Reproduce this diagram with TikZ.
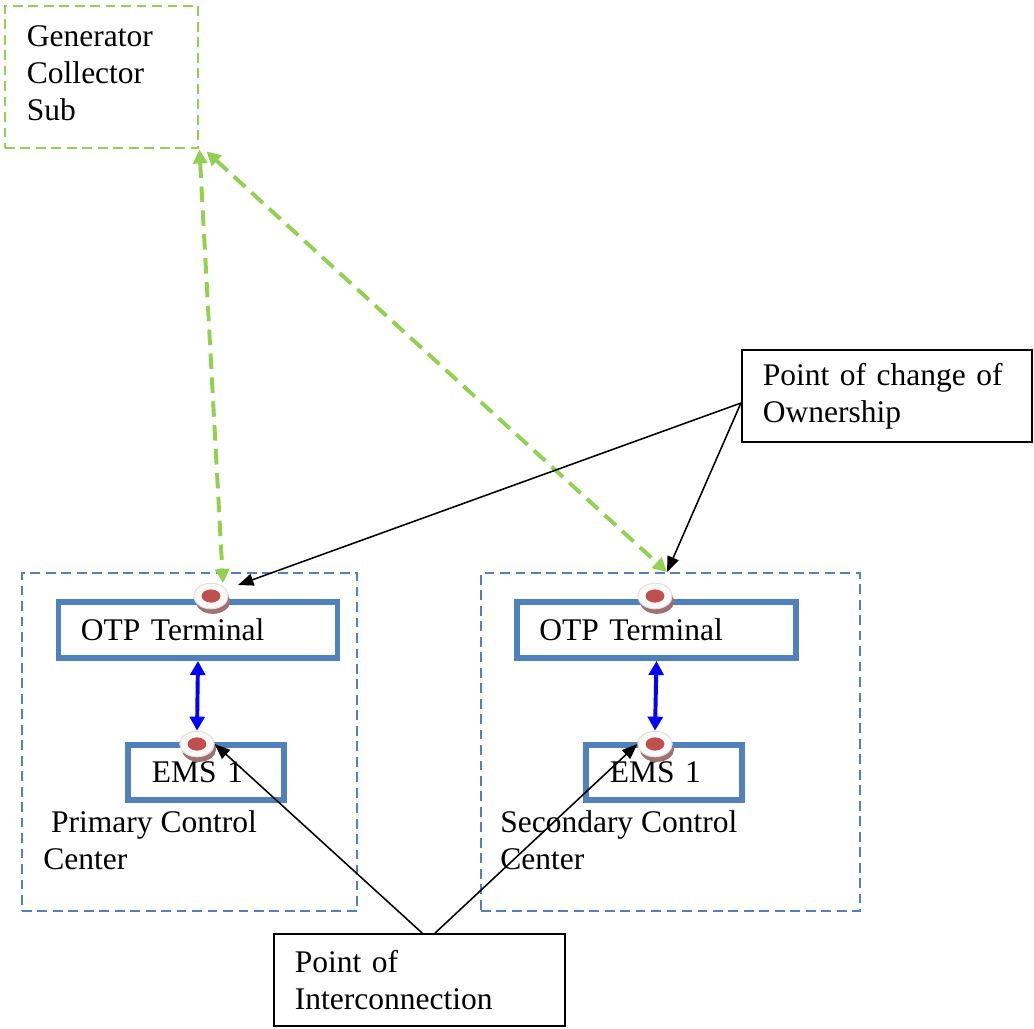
\documentclass[tikz,border=0pt]{standalone}
\usepackage{fontspec}
\setmainfont{Liberation Serif}
\usetikzlibrary{arrows.meta, shapes.geometric, shadows}

\definecolor{boxblue}{RGB}{79, 129, 189}
\definecolor{subgreen}{RGB}{146, 208, 80}
\definecolor{plugred}{RGB}{192, 80, 77}
\definecolor{plugshade}{RGB}{160, 112, 115}

\tikzset{
	txt/.style = {font = \fontsize{22.4}{26.3}\selectfont},
	subbox/.style = {txt, draw = subgreen, line width = 2pt, dash pattern = on 7pt off 4pt, align = left, inner xsep = 0.55cm, text width = 3.725cm, minimum height = 3.55cm, execute at end node = {\par\vspace{6pt}}},
	notebox/.style = {txt, draw = black, line width = 1.2pt, align = left, inner xsep = 0.53cm, minimum height = 2.3cm},
	centerbox/.style = {draw = boxblue, line width = 1.8pt, dash pattern = on 7pt off 4pt, inner sep = 0pt, minimum height = 8.45cm},
	otpbox/.style = {txt, draw = boxblue, line width = 4.2pt, align = left, inner xsep = 0.5625cm, text width = 5.85cm, minimum height = 1.4cm},
	emsbox/.style = {txt, draw = boxblue, line width = 4.2pt, align = left, inner xsep = 0.6cm, text width = 2.7cm, minimum height = 1.375cm},
	plug/.style = {ellipse, inner sep = 0pt, minimum width = 0.86cm, minimum height = 0.64cm, fill = gray!5, draw = gray!25, line width = 0.7pt,
		drop shadow = {shadow xshift = 1.4pt, shadow yshift = -3.6pt, fill = plugshade, opacity = 1},
		path picture = {\fill[plugred] (path picture bounding box.center) ellipse [x radius = 0.235cm, y radius = 0.165cm];}},
	greenlink/.style = {draw = subgreen, line width = 2.8pt, dash pattern = on 11pt off 6pt, {Triangle[length = 10pt, width = 10pt]}-{Triangle[length = 10pt, width = 10pt]}},
	emslink/.style = {draw = blue, line width = 2.8pt, {Triangle[length = 10pt, width = 10.5pt]}-{Triangle[length = 10pt, width = 10.5pt]}},
	ownlink/.style = {draw = black, line width = 1.1pt, -{Triangle[length = 11pt, width = 8.5pt]}}
}

\begin{document}
\begin{tikzpicture}[x = 0.025cm, y = -0.025cm]

	\useasboundingbox (0, 0) rectangle (1034, 1028);

	\node[subbox] (gen) at (101.5, 77) {Generator\\Collector\\Sub};

	\node[centerbox, minimum width = 8.375cm] (priCC) at (189.5, 742) {};
	\node[centerbox, minimum width = 9.475cm] (secCC) at (670.5, 742) {};

	\node[otpbox] (otpL) at (198, 630) {OTP Terminal};
	\node[otpbox] (otpR) at (656.5, 630) {OTP Terminal};
	\node[emsbox] (emsL) at (206, 772.5) {EMS 1};
	\node[emsbox] (emsR) at (664, 772.5) {EMS 1};

	\node[txt, align = left, inner sep = 0pt, anchor = north west] (priLabel) at (43, 810.5) {\ Primary Control\\Center};
	\node[txt, align = left, inner sep = 0pt, anchor = north west] (secLabel) at (500, 810.5) {Secondary Control\\Center};

	\node[plug] (dotLt) at (211, 596) {};
	\node[plug] (dotLb) at (197, 744) {};
	\node[plug] (dotRt) at (655, 596) {};
	\node[plug] (dotRb) at (655, 744) {};

	\node[notebox, text width = 6.2cm] (own) at (887, 396) {Point of change of\\Ownership};
	\node[notebox, text width = 6.225cm] (inter) at (419.5, 980) {Point of\\Interconnection};

	\coordinate (priTop) at (223, 583);
	\coordinate (secTop) at (667, 572);
	\coordinate (priHook) at (238, 585);

	\draw[greenlink] (gen.south east) -- (priTop);
	\draw[greenlink] ([shift = {(7, 2)}]gen.south east) -- (secTop);

	\draw[emslink] (otpL.south) -- (dotLb.north);
	\draw[emslink] (otpR.south) -- (dotRb.north);

	\draw[ownlink] ([yshift = -5pt]own.west) -- (priHook);
	\draw[ownlink] ([yshift = -5pt]own.west) -- (secTop);

	\draw[ownlink] ([xshift = 2pt]inter.north) -- (dotLb.east);
	\draw[ownlink] ([xshift = 11pt]inter.north) -- (dotRb.west);

\end{tikzpicture}
\end{document}
